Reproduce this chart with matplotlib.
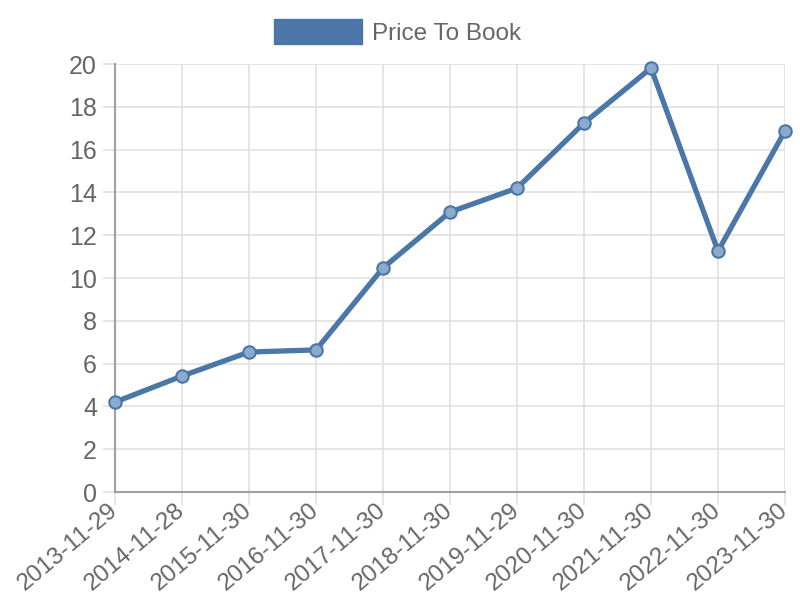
import matplotlib
matplotlib.use("Agg")
import matplotlib.pyplot as plt
from matplotlib.patches import Patch

dates = ["2013-11-29", "2014-11-28", "2015-11-30", "2016-11-30", "2017-11-30",
         "2018-11-30", "2019-11-29", "2020-11-30", "2021-11-30", "2022-11-30",
         "2023-11-30"]
price_to_book = [4.2, 5.42, 6.54, 6.64, 10.47, 13.08, 14.2, 17.24, 19.81, 11.26, 16.87]
yticks = list(range(0, 21, 2))

line_color = "#4a77a8"
text_color = "#666666"

plt.rcParams['font.family'] = ['Liberation Sans', 'DejaVu Sans']

fig = plt.figure(figsize=(8, 6), dpi=100)
ax = fig.add_axes([115/800, 108/600, 670/800, 428/600])

x = list(range(len(dates)))
ax.plot(x, price_to_book, color=line_color, lw=3.8, zorder=3, clip_on=False,
        solid_joinstyle='miter')
ax.scatter(x, price_to_book, s=80, facecolor=(0.55, 0.67, 0.80), edgecolor=line_color,
           linewidth=1.5, zorder=4, clip_on=False)

ax.set_xlim(0, len(dates) - 1)
ax.set_ylim(0, 20)
ax.set_xticks(x)
ax.set_xticklabels(dates, rotation=40, ha='right', va='center', rotation_mode='anchor')
ax.set_yticks(yticks)

ax.grid(True, color="#e0e0e0", lw=1.2, zorder=0)
ax.set_axisbelow(True)
for s in ['top', 'right']:
    ax.spines[s].set_visible(False)
for s in ['left', 'bottom']:
    ax.spines[s].set_color("#a0a0a0")
    ax.spines[s].set_linewidth(1.5)
ax.tick_params(axis='both', colors="#e0e0e0", length=9, width=1.2,
               labelcolor=text_color, labelsize=17.5, pad=3)
ax.tick_params(axis='y', labelsize=18, pad=4)
ax.tick_params(axis='x', labelsize=17.5, pad=2)

leg = fig.legend(handles=[Patch(facecolor=line_color, edgecolor=line_color)],
                 labels=["Price To Book"], loc='center', bbox_to_anchor=(0.497, 1 - 32/600),
                 frameon=False, fontsize=17.5, handlelength=3.6, handleheight=1.2,
                 handletextpad=0.4, labelcolor=text_color)

fig.savefig("out.png", dpi=100)
